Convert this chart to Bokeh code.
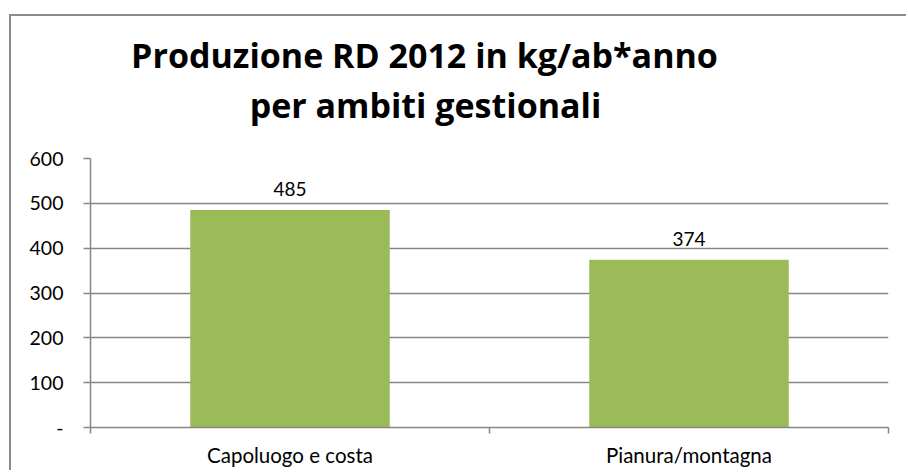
from bokeh.plotting import figure
from bokeh.models import (ColumnDataSource, FixedTicker, LabelSet, Label, Range1d)
from bokeh.core.properties import value
from bokeh.embed import file_html
from bokeh.resources import INLINE

categories = ["Capoluogo e costa", "Pianura/montagna"]
values = [485, 374]
y_ticks = [0, 100, 200, 300, 400, 500, 600]
y_tick_labels = ["-", "100", "200", "300", "400", "500", "600"]
title_lines = ["Produzione RD 2012 in kg/ab*anno", "per ambiti gestionali"]

FONT = "Lato"
TITLE_FONT = "Open Sans"
GREY = "#868686"
BAR = "#9BBB59"

xpos = [i + 0.5 for i in range(len(categories))]
src = ColumnDataSource(dict(x=xpos, top=values, lab=[str(v) for v in values]))

p = figure(width=897, height=456, output_backend="svg", toolbar_location=None,
           x_range=Range1d(0, len(categories)), y_range=Range1d(0, 600))
p.margin = (14, 0, 0, 9)
p.min_border_left = 79
p.min_border_right = 20
p.min_border_top = 142
p.min_border_bottom = 45
p.outline_line_color = None
p.background_fill_color = "white"
p.border_fill_color = "white"
# outer chart border (left and top edges visible in the window)
p.styles = {"border-left": "2px solid #8c8c8c", "border-top": "2px solid #8c8c8c"}

p.vbar(x="x", top="top", bottom=0, width=0.5, source=src, fill_color=BAR, line_color=None)

p.add_layout(LabelSet(x="x", y="top", text="lab", source=src, text_align="center",
                      text_baseline="alphabetic", y_offset=14, text_font=value(FONT),
                      text_font_size="19px", text_color="black"))

# y axis
p.yaxis.ticker = FixedTicker(ticks=y_ticks, minor_ticks=[])
p.yaxis.major_label_overrides = {t: l for t, l in zip(y_ticks, y_tick_labels)}
p.yaxis.axis_line_color = GREY
p.yaxis.axis_line_width = 1.5
p.yaxis.major_tick_line_color = GREY
p.yaxis.major_tick_line_width = 1.5
p.yaxis.major_tick_in = 0
p.yaxis.major_tick_out = 7
p.yaxis.major_label_standoff = 20
p.yaxis.major_label_text_font = FONT
p.yaxis.major_label_text_font_size = "19.5px"
p.yaxis.major_label_text_color = "black"

# x axis: labels at category centres, tick marks at category boundaries
p.xaxis.ticker = FixedTicker(ticks=xpos, minor_ticks=list(range(len(categories) + 1)))
p.xaxis.major_label_overrides = {x: c for x, c in zip(xpos, categories)}
p.xaxis.axis_line_color = GREY
p.xaxis.axis_line_width = 1.5
p.xaxis.major_tick_line_color = None
p.xaxis.major_tick_in = 0
p.xaxis.major_tick_out = 0
p.xaxis.minor_tick_line_color = GREY
p.xaxis.minor_tick_line_width = 1.5
p.xaxis.minor_tick_in = 0
p.xaxis.minor_tick_out = 6
p.xaxis.major_label_standoff = 9
p.xaxis.major_label_text_font = FONT
p.xaxis.major_label_text_font_size = "20.5px"
p.xaxis.major_label_text_color = "black"

p.xgrid.grid_line_color = None
p.ygrid.ticker = FixedTicker(ticks=y_ticks)
p.ygrid.grid_line_color = GREY
p.ygrid.grid_line_width = 1.5

# title: two centred lines in the panel above the plot area
p.add_layout(Label(x=334, y=104, x_units="screen", y_units="screen", text=title_lines[0],
                   text_align="center", text_baseline="alphabetic", text_font=TITLE_FONT,
                   text_font_style="bold", text_font_size="34px", text_color="black"),
             "above")
p.add_layout(Label(x=335, y=8, x_units="screen", y_units="screen", text=title_lines[1],
                   text_align="center", text_baseline="alphabetic", text_font=TITLE_FONT,
                   text_font_style="bold", text_font_size="34px", text_color="black"),
             "above")

open("out.html", "w").write(file_html(p, INLINE))
